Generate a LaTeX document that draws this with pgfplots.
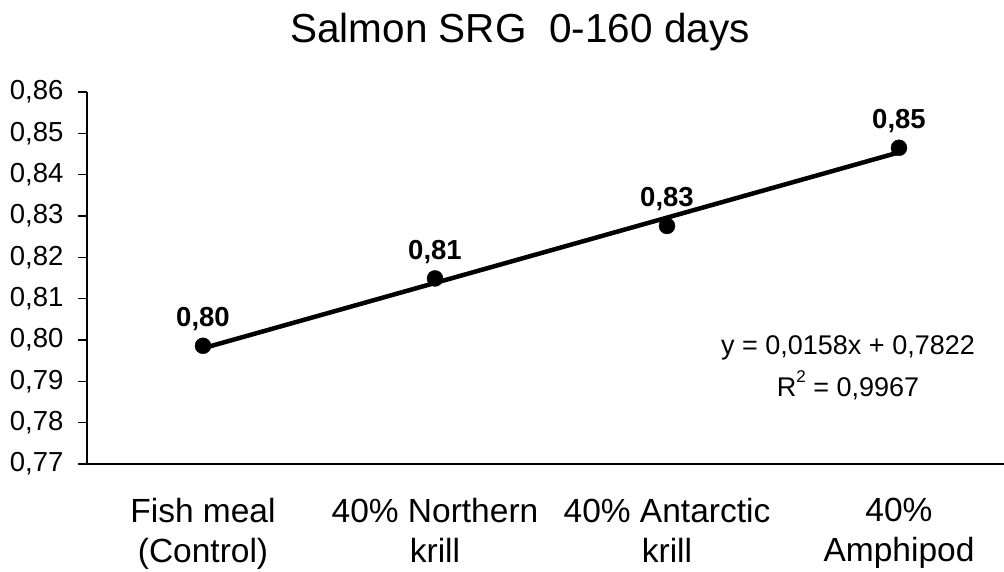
\documentclass[border=0pt]{standalone}
\usepackage{pgfplots}
\pgfplotsset{compat=1.18}
\usepackage{pgfplotstable}
\usepackage{fontspec}
\setmainfont{Liberation Sans}
\pgfplotstableread{
x y lab
1 0.7986 {0,80}
2 0.8149 {0,81}
3 0.8276 {0,83}
4 0.8465 {0,85}
}\srgdata
\pgfplotstableread{
x y
1 0.7980
4 0.8454
}\trenddata
\begin{document}
\begin{tikzpicture}
\useasboundingbox (-87pt,-108pt) rectangle (917pt,464pt);
\begin{axis}[
  at={(0pt,0pt)}, anchor=south west,
  scale only axis, width=917pt, height=372pt,
  xmin=0.5, xmax=4.4526, ymin=0.77, ymax=0.86,
  axis x line=bottom, axis y line=left,
  axis line style={-, line width=1.3pt},
  every tick/.style={black, line width=1.3pt},
  tick align=outside,
  ytick={0.77,0.78,...,0.865},
  /pgf/number format/use comma,
  /pgf/number format/fixed,
  /pgf/number format/fixed zerofill,
  /pgf/number format/precision=2,
  /pgf/number format/assume math mode=true,
  yticklabel style={font=\fontsize{27.5}{31}\selectfont, xshift=-11pt},
  major tick length=9pt,
  xtick={1,2,3,4},
  xticklabels={{Fish meal\\(Control)},{40\% Northern\\krill},{40\% Antarctic\\krill},{40\%\\Amphipod}},
  xticklabel style={align=center, font=\fontsize{33.5}{40}\selectfont, yshift=-22pt},
  x tick style={draw=none},
  extra x ticks={0.5,1.5,2.5,3.5},
  extra x tick labels={},
  extra x tick style={tick style={draw=black, line width=1.3pt}, major tick length=9pt},
  clip=false,
]
\addplot[black, line width=4.5pt] table[x=x,y=y] {\trenddata};
\addplot[only marks, mark=*, mark size=8pt, black,
  nodes near coords, point meta=explicit symbolic,
  nodes near coords style={font=\fontsize{27.5}{32}\selectfont\bfseries, anchor=base, inner sep=0pt, yshift=19pt}]
  table[x=x,y=y,meta=lab] {\srgdata};
\end{axis}
\node[font=\fontsize{40.5}{46}\selectfont, anchor=base] at (433pt,421pt) {Salmon SRG\ \ 0-160 days};
\node[font=\fontsize{27}{32}\selectfont, anchor=base] at (761pt,109pt) {y = 0,0158x + 0,7822};
\node[font=\fontsize{27}{32}\selectfont, anchor=base] at (761pt,67pt) {R\raisebox{0.55em}{\fontsize{17}{20}\selectfont 2} = 0,9967};
\end{tikzpicture}
\end{document}
